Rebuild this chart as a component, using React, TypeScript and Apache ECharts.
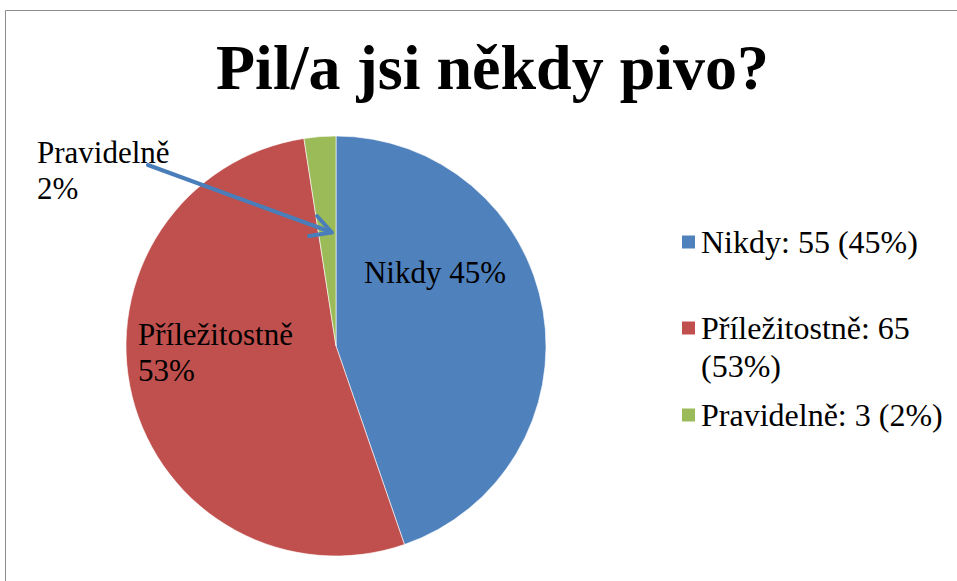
import React, { useEffect, useRef } from "react";
import * as echarts from "echarts";

const categories = ["Nikdy", "Příležitostně", "Pravidelně"];
const values = [55, 65, 3];
const colors = ["#4F81BD", "#C0504D", "#9BBB59"];
const titleText = "Pil/a jsi někdy pivo?";

const FONT = "'Liberation Serif', 'Times New Roman', serif";

export default function App() {
  const ref = useRef<HTMLDivElement>(null);

  useEffect(() => {
    if (!ref.current) return;
    const chart = echarts.init(ref.current, undefined, { renderer: "svg" });
    const total = values.reduce((a, b) => a + b, 0);
    const pct = (v: number) => Math.round((v / total) * 100);

    const legendTops = [223, 271, 396];
    const labelPos = [
      { x: 435, y: 272, align: "center", verticalAlign: "middle" },
      { x: 138, y: 352, align: "left", verticalAlign: "middle" },
      { x: 37, y: 170, align: "left", verticalAlign: "middle" },
    ];

    const option: any = {
      animation: false,
      backgroundColor: "#ffffff",
      title: {
        text: titleText,
        left: 216,
        top: 35,
        padding: 0,
        textStyle: {
          fontFamily: FONT,
          fontSize: 64,
          fontWeight: "bold",
          lineHeight: 64,
          color: "#000",
        },
      },
      legend: categories.map((name, i) => ({
        data: [name],
        orient: "vertical",
        left: 680,
        top: legendTops[i],
        padding: 0,
        itemWidth: 15,
        itemHeight: 15,
        icon: "rect",
        selectedMode: false,
        formatter: (n: string) => {
          const idx = categories.indexOf(n);
          const v = values[idx];
          // second entry wraps onto two lines, first line aligned with the marker
          return idx === 1
            ? `\n${n}: ${v}\n(${pct(v)}%)`
            : `${n}: ${v} (${pct(v)}%)`;
        },
        textStyle: {
          fontFamily: FONT,
          fontSize: 32,
          lineHeight: 38,
          color: "#000",
        },
      })),
      graphic: [
        {
          type: "rect",
          z: -10,
          shape: { x: 5.5, y: 10.5, width: 1200, height: 1200 },
          style: { fill: "none", stroke: "#8c8c8c", lineWidth: 1 },
        },
        {
          type: "line",
          z: 100,
          shape: { x1: 148, y1: 165, x2: 331, y2: 232 },
          style: { stroke: "#4A7EBB", lineWidth: 4, lineCap: "round" },
        },
        {
          type: "polyline",
          z: 100,
          shape: { points: [[317, 216], [332, 232.5], [309, 236]] },
          style: { stroke: "#4A7EBB", lineWidth: 4, fill: "none", lineCap: "round", lineJoin: "round" },
        },
      ],
      series: [
        {
          type: "pie",
          center: [336, 346],
          radius: 210,
          startAngle: 90,
          clockwise: true,
          avoidLabelOverlap: false,
          percentPrecision: 0,
          silent: true,
          itemStyle: { borderColor: "#ffffff", borderWidth: 0.6 },
          label: {
            show: true,
            overflow: "none",
            fontFamily: FONT,
            fontSize: 31,
            lineHeight: 36,
            color: "#000",
            formatter: (p: any) =>
              p.dataIndex === 0 ? `${p.name} ${p.percent}%` : `${p.name}\n${p.percent}%`,
          },
          labelLine: { show: false },
          labelLayout: (params: any) => labelPos[params.dataIndex],
          data: categories.map((name, i) => ({
            name,
            value: values[i],
            itemStyle: { color: colors[i] },
            label: { position: i === 2 ? "outside" : "inside" },
          })),
        },
      ],
    };

    chart.setOption(option);
    return () => chart.dispose();
  }, []);

  return (
    <div
      ref={ref}
      style={{ position: "fixed", left: 0, top: 0, width: 957, height: 581, background: "#fff" }}
    />
  );
}
